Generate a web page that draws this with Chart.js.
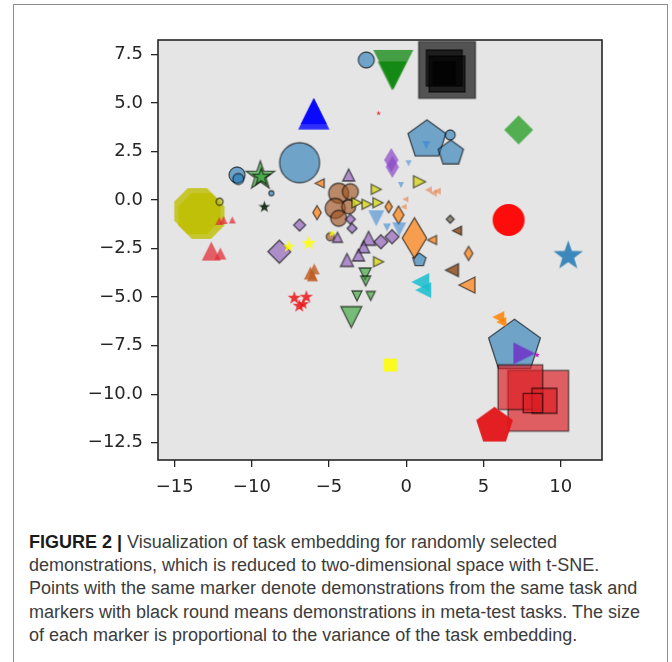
<!DOCTYPE html>
<html>
<head>
<meta charset="utf-8">
<script src="https://cdn.jsdelivr.net/npm/chart.js@4.4.0/dist/chart.umd.min.js"></script>
<style>
  html, body { margin: 0; padding: 0; background: #fff; }
  body { width: 672px; height: 662px; position: relative; overflow: hidden; }
  #frame { position: absolute; left: 13px; top: 4px; width: 653px; height: 700px;
           border: 1.5px solid #8c8c8c; border-bottom: none; }
  #chart { position: absolute; left: 0; top: 0; }
  #caption { position: absolute; left: 29px; top: 531px; font-family: "Liberation Sans", Arial, sans-serif;
             font-size: 18px; line-height: 23.2px; color: #3c3c3c; white-space: nowrap; }
  #caption b { color: #1a1a1a; }
</style>
</head>
<body>
<div id="frame"></div>
<canvas id="chart" width="672" height="520"></canvas>
<div id="caption">
  <b>FIGURE 2 |</b> Visualization of task embedding for randomly selected<br>
  demonstrations, which is reduced to two-dimensional space with t-SNE.<br>
  Points with the same marker denote demonstrations from the same task and<br>
  markers with black round means demonstrations in meta-test tasks. The size<br>
  of each marker is proportional to the variance of the task embedding.
</div>
<script>
// axis ticks
const X_TICKS = [-15, -10, -5, 0, 5, 10]
const X_LABELS = ['−15', '−10', '−5', '0', '5', '10']
const Y_TICKS = [7.5, 5, 2.5, 0, -2.5, -5, -7.5, -10, -12.5]
const Y_LABELS = ['7.5', '5.0', '2.5', '0.0', '−2.5', '−5.0', '−7.5', '−10.0', '−12.5']

// t-SNE points per task: [x, y, variance]
const oliveOctagons = [[-13.53, -0.57, 2.5], [-13.27, -0.82, 2.5]]
const blackSquares = [[2.64, 6.70, 2.83], [2.46, 6.80, 1.8], [2.64, 6.49, 1.8], [2.46, 6.54, 1.1]]
const bluePentagons = [[1.34, 3.10, 2.0], [2.89, 2.41, 1.33], [7.01, -7.54, 2.73], [0.85, -3.09, 0.7]]
const redSquares = [[8.55, -10.34, 3.03], [7.39, -9.64, 2.23], [8.95, -10.34, 1.25], [8.20, -10.46, 0.97]]
const blueCircles = [[-6.91, 1.92, 2.0], [-10.96, 1.29, 0.8], [-10.88, 1.08, 0.55], [-8.74, 0.35, 0.25],
  [-2.59, 7.21, 0.8], [2.85, 3.35, 0.5]]
const greenTriDown = [[-0.84, 6.70, 2.0], [-0.92, 6.39, 1.45]]
const blueTriUp = [[-5.99, 4.44, 1.57], [-5.99, 4.58, 1.3]]
const greenStars = [[-9.45, 1.24, 1.5], [-9.39, 1.18, 0.9]]
const darkGreenStars = [[-9.19, -0.36, 0.45]]
const greenDiamonds = [[7.28, 3.61, 1.45]]
const redCircles = [[6.63, -1.03, 1.6]]
const redPentagons = [[5.72, -11.64, 1.93]]
const blueStars = [[10.49, -2.88, 1.55]]
const redTriangles = [[-12.63, -2.63, 0.95], [-12.04, -2.76, 0.6], [-11.83, -1.03, 0.4],
  [-11.27, -1.03, 0.35], [-12.11, -1.08, 0.4]]
const redStars = [[-7.25, -5.05, 0.7], [-6.47, -5.00, 0.7], [-6.93, -5.46, 0.7], [-6.67, -5.36, 0.6],
  [-1.79, 4.47, 0.25]]
const oliveCircles = [[-12.09, -0.09, 0.35]]
const brownCircles = [[-4.38, 0.35, 1.0], [-3.62, 0.43, 0.8], [-4.60, -0.43, 1.0], [-3.73, -0.35, 0.7],
  [-4.38, -0.94, 0.8], [-4.92, -1.89, 0.4]]
const purpleDiamonds = [[-8.22, -2.66, 1.15], [-6.91, -1.29, 0.6], [-1.64, -2.15, 0.7], [-0.92, -1.89, 0.7],
  [-3.62, -0.99, 0.5], [-3.51, -1.46, 0.5]]
const purpleTriUp = [[-3.73, 1.29, 0.6], [-2.44, -1.97, 0.7], [-2.76, -2.41, 0.6], [-3.09, -2.83, 0.6],
  [-3.84, -3.09, 0.65], [-4.45, -1.92, 0.5]]
const purpleThin = [[-0.97, 2.06, 1.2], [-0.90, 1.70, 1.1]]
const violetTriRight = [[7.65, -7.90, 1.1]]
const magentaDots = [[8.47, -7.98, 0.3]]
const siennaTri = [[-6.21, -3.76, 0.65], [-5.96, -3.55, 0.55], [-6.08, -3.91, 0.55]]
const orangeThin = [[0.53, -1.96, 2.03], [-5.78, -0.65, 0.7], [-1.14, -0.35, 0.6], [-0.50, -0.77, 0.9],
  [4.04, -2.75, 0.7]]
const grayDiamonds = [[2.85, -0.99, 0.4]]
const orangeTriLeft = [[3.93, -4.38, 0.8], [-5.61, 0.86, 0.45], [1.67, -2.06, 0.45]]
const brownTriLeft = [[2.96, -3.61, 0.65], [3.29, -1.58, 0.45]]
const salmonTri = [[1.43, 0.52, 0.35], [1.75, 0.36, 0.35], [2.01, 0.46, 0.35], [-0.06, 0.04, 0.3],
  [-0.17, -0.35, 0.3]]
const orangeBright = [[5.96, -6.03, 0.6], [6.16, -6.28, 0.5]]
const blueTriDown = [[-1.94, -0.94, 0.8], [-1.25, -1.41, 0.4], [-0.45, -1.51, 0.7], [0.15, 1.89, 0.3],
  [-0.34, 0.77, 0.3], [1.30, 2.83, 0.4]]
const lightGreenTriDown = [[-2.66, -3.81, 0.6], [-2.63, -4.17, 0.5], [-3.19, -4.94, 0.5], [-2.30, -4.94, 0.45],
  [-3.56, -6.03, 1.05]]
const yellowTriRight = [[-3.19, -0.14, 0.5], [-2.54, -0.22, 0.5], [-1.83, -0.14, 0.5], [-1.94, 0.55, 0.5],
  [0.86, 0.94, 0.6], [-1.79, -3.18, 0.5]]
const yellowStars = [[-7.62, -2.41, 0.65], [-6.32, -2.23, 0.75], [-4.81, -1.72, 0.4]]
const yellowSquares = [[-1.03, -8.50, 0.65]]
const cyanTri = [[0.91, -4.22, 0.9], [1.10, -4.64, 0.8]]

const SIZE_K = 10
const EDGE = 'rgba(0,0,0,0.62)'

// drawn bottom to top
const series = [
  [oliveOctagons, 'octagon', 'rgba(190,190,0,0.8)', null],
  [blackSquares, 'square', 'rgba(0,0,0,0.64)', EDGE],
  [bluePentagons, 'pentagon', 'rgba(31,119,180,0.6)', EDGE],
  [redSquares, 'square', 'rgba(220,30,35,0.68)', EDGE],
  [blueCircles, 'circle', 'rgba(31,119,180,0.6)', EDGE],
  [greenTriDown, 'triDown', 'rgba(0,128,0,0.7)', null],
  [blueTriUp, 'triUp', 'rgba(0,0,255,0.8)', null],
  [greenStars, 'star', 'rgba(44,160,44,0.6)', EDGE],
  [darkGreenStars, 'star', 'rgba(0,60,0,0.9)', EDGE],
  [greenDiamonds, 'diamond', 'rgba(44,160,44,0.8)', null],
  [redCircles, 'circle', 'rgba(255,0,0,0.95)', null],
  [redPentagons, 'pentagon', 'rgba(228,20,24,0.95)', null],
  [blueStars, 'star', 'rgba(31,119,180,0.85)', null],
  [redTriangles, 'triUp', 'rgba(225,40,50,0.72)', null],
  [redStars, 'star', 'rgba(235,20,25,0.85)', null],
  [oliveCircles, 'circle', 'rgba(188,189,34,0.7)', EDGE],
  [brownCircles, 'circle', 'rgba(160,80,30,0.62)', EDGE],
  [purpleDiamonds, 'diamond', 'rgba(148,103,189,0.7)', EDGE],
  [purpleTriUp, 'triUp', 'rgba(148,103,189,0.7)', EDGE],
  [purpleThin, 'thin', 'rgba(140,70,200,0.7)', null],
  [violetTriRight, 'triRight', 'rgba(110,50,200,0.85)', null],
  [magentaDots, 'star', 'rgba(200,0,200,0.9)', null],
  [siennaTri, 'triUp', 'rgba(190,90,30,0.8)', null],
  [orangeThin, 'thin', 'rgba(255,127,14,0.7)', EDGE],
  [grayDiamonds, 'diamond', 'rgba(110,100,80,0.7)', EDGE],
  [orangeTriLeft, 'triLeft', 'rgba(255,127,14,0.7)', EDGE],
  [brownTriLeft, 'triLeft', 'rgba(140,70,20,0.8)', EDGE],
  [salmonTri, 'triLeft', 'rgba(230,130,80,0.65)', null],
  [orangeBright, 'triLeft', 'rgba(255,130,0,0.85)', null],
  [blueTriDown, 'triDown', 'rgba(50,130,210,0.55)', null],
  [lightGreenTriDown, 'triDown', 'rgba(44,160,44,0.6)', EDGE],
  [yellowTriRight, 'triRight', 'rgba(215,215,30,0.8)', EDGE],
  [yellowStars, 'star', 'rgba(255,255,0,0.85)', null],
  [yellowSquares, 'square', 'rgba(255,255,0,0.85)', null],
  [cyanTri, 'triLeft', 'rgba(23,190,207,0.85)', null],
]

function tracePath(g, shape, r) {
  const poly = (n, start) => {
    for (let i = 0; i < n; i++) {
      const a = start + i * 2 * Math.PI / n
      g.lineTo(r * Math.cos(a), r * Math.sin(a))
    }
  }
  const pts = (list) => list.forEach(([a, b]) => g.lineTo(a * r, b * r))
  if (shape === 'circle') g.arc(0, 0, r, 0, 2 * Math.PI)
  else if (shape === 'square') g.rect(-r, -r, 2 * r, 2 * r)
  else if (shape === 'diamond') pts([[0, -1], [1, 0], [0, 1], [-1, 0]])
  else if (shape === 'thin') pts([[0, -1], [0.6, 0], [0, 1], [-0.6, 0]])
  else if (shape === 'triUp') pts([[0, -1], [1, 1], [-1, 1]])
  else if (shape === 'triDown') pts([[0, 1], [1, -1], [-1, -1]])
  else if (shape === 'triLeft') pts([[-1, 0], [1, -1], [1, 1]])
  else if (shape === 'triRight') pts([[1, 0], [-1, -1], [-1, 1]])
  else if (shape === 'pentagon') poly(5, -Math.PI / 2)
  else if (shape === 'octagon') poly(8, -Math.PI / 2 + Math.PI / 8)
  else if (shape === 'star') {
    for (let i = 0; i < 10; i++) {
      const a = -Math.PI / 2 + i * Math.PI / 5
      const rr = i % 2 ? r * 0.4 : r
      g.lineTo(rr * Math.cos(a), rr * Math.sin(a))
    }
  }
}

function markerCanvas(shape, r, fill, edge) {
  const s = Math.ceil(2 * r + 6)
  const c = document.createElement('canvas')
  c.width = s
  c.height = s
  const g = c.getContext('2d')
  g.translate(s / 2, s / 2)
  g.beginPath()
  tracePath(g, shape, r)
  g.closePath()
  g.fillStyle = fill
  g.fill()
  if (edge) {
    g.lineWidth = 1.3
    g.strokeStyle = edge
    g.stroke()
  }
  return c
}

const datasets = series.map(([pts, shape, fill, edge], i) => ({
  data: pts.map(p => ({ x: p[0], y: p[1] })),
  pointStyle: pts.map(p => markerCanvas(shape, p[2] * SIZE_K, fill, edge)),
  pointRadius: pts.map(p => p[2] * SIZE_K),
  order: -i,
}))

const plotFrame = {
  id: 'plotFrame',
  beforeDraw(chart) {
    const { ctx, chartArea: a } = chart
    ctx.save()
    ctx.fillStyle = '#e5e5e5'
    ctx.fillRect(a.left, a.top, a.right - a.left, a.bottom - a.top)
    ctx.restore()
  },
  afterDatasetsDraw(chart) {
    const { ctx, chartArea: a } = chart
    ctx.save()
    ctx.strokeStyle = '#262626'
    ctx.lineWidth = 1.6
    ctx.strokeRect(a.left, a.top, a.right - a.left, a.bottom - a.top)
    ctx.restore()
  }
}

const tickFont = { family: 'DejaVu Sans', size: 18 }

new Chart(document.getElementById('chart'), {
  type: 'scatter',
  data: { datasets },
  plugins: [plotFrame],
  options: {
    responsive: false,
    animation: false,
    events: [],
    layout: { padding: { left: 0, right: 70, top: 40, bottom: 0 } },
    plugins: { legend: { display: false }, tooltip: { enabled: false } },
    scales: {
      x: {
        type: 'linear', min: -16.08, max: 12.68,
        afterBuildTicks: s => { s.ticks = X_TICKS.map(v => ({ value: v })) },
        afterFit: s => { s.height = 60 },
        ticks: { callback: v => X_LABELS[X_TICKS.indexOf(v)], color: '#262626', font: tickFont,
                 padding: 10, maxRotation: 0, autoSkip: false },
        grid: { drawOnChartArea: false, drawTicks: true, tickLength: 7, color: '#262626', lineWidth: 1.3 },
        border: { display: false },
      },
      y: {
        type: 'linear', min: -13.39, max: 8.24,
        afterBuildTicks: s => { s.ticks = Y_TICKS.map(v => ({ value: v })) },
        afterFit: s => { s.width = 158 },
        ticks: { callback: v => Y_LABELS[Y_TICKS.indexOf(v)], color: '#262626', font: tickFont,
                 padding: 8, autoSkip: false },
        grid: { drawOnChartArea: false, drawTicks: true, tickLength: 7, color: '#262626', lineWidth: 1.3 },
        border: { display: false },
      },
    },
  },
})
</script>
</body>
</html>
